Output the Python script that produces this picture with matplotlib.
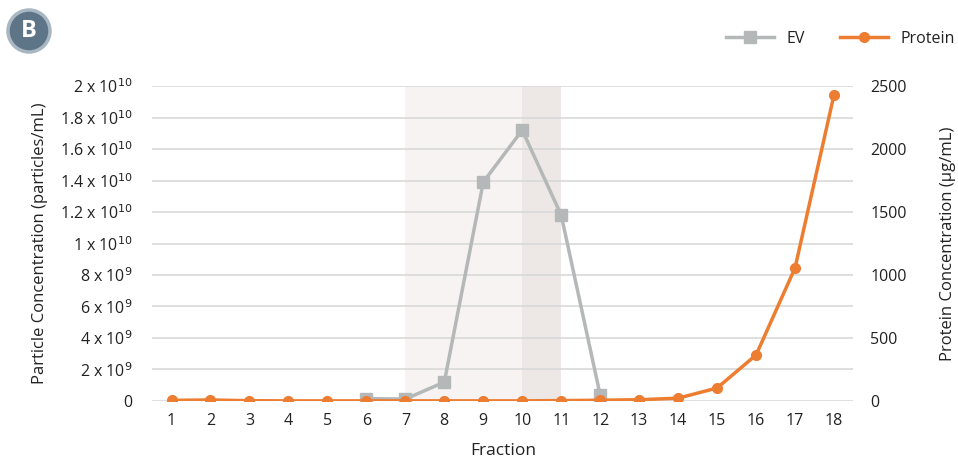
import numpy as np
import matplotlib.pyplot as plt
import matplotlib.patches as mpatches
from matplotlib.ticker import FixedLocator

plt.rcParams['font.family'] = ['Open Sans', 'DejaVu Sans']

fractions = np.arange(1, 19)
ev_fractions = [6, 7, 8, 9, 10, 11, 12]
ev_values = [0.15e9, 0.12e9, 1.2e9, 1.39e10, 1.72e10, 1.18e10, 0.38e9]
protein = [5, 8, 2, 1, 1, 1, 1, 1, 1, 1, 3, 6, 10, 22, 103, 365, 1056, 2430]

left_ticks = [0, 2e9, 4e9, 6e9, 8e9, 1e10, 1.2e10, 1.4e10, 1.6e10, 1.8e10, 2e10]
left_labels = ['0', r'2 x 10$^{9}$', r'4 x 10$^{9}$', r'6 x 10$^{9}$', r'8 x 10$^{9}$',
               r'1 x 10$^{10}$', r'1.2 x 10$^{10}$', r'1.4 x 10$^{10}$', r'1.6 x 10$^{10}$',
               r'1.8 x 10$^{10}$', r'2 x 10$^{10}$']
right_ticks = [0, 500, 1000, 1500, 2000, 2500]

ev_color = '#B5B8B8'
prot_color = '#ED7D31'
txt = '#222222'

fig = plt.figure(figsize=(9.58, 4.61), dpi=100)
ax = fig.add_axes([0.1587, 0.1302, 0.7322, 0.6832])
ax2 = ax.twinx()

ax.axvspan(7, 10, color='#F7F3F3', zorder=0, lw=0)
ax.axvspan(10, 11, color='#EDE8E5', zorder=0, lw=0)

ax.set_xlim(0.5, 18.5)
ax.set_ylim(0, 2e10)
ax2.set_ylim(0, 2500)

ax.yaxis.set_major_locator(FixedLocator(left_ticks))
ax.set_yticklabels(left_labels)
ax2.set_yticks(right_ticks)
ax.set_xticks(fractions)
ax.grid(axis='y', color='#D9D9D9', lw=1.2, zorder=1)
ax.set_axisbelow(True)

l1, = ax.plot(ev_fractions, ev_values, color=ev_color, lw=2.5, marker='s', ms=8, zorder=3, label='EV')
l2, = ax2.plot(fractions, protein, color=prot_color, lw=2.5, marker='o', ms=7, zorder=4, label='Protein')

for a in (ax, ax2):
    for s in a.spines.values():
        s.set_visible(False)
    a.tick_params(length=0, labelsize=11.5, colors=txt)
ax.tick_params(axis='y', pad=14)
ax2.tick_params(axis='y', pad=12)
ax.tick_params(axis='x', pad=9)

ax.set_xlabel('Fraction', fontsize=12.5, color=txt, labelpad=10)
ax.set_ylabel('Particle Concentration (particles/mL)', fontsize=12, color=txt, labelpad=8)
ax2.set_ylabel('Protein Concentration (µg/mL)', fontsize=12, color=txt, labelpad=24)

fig.legend(handles=[l1, l2], loc='upper right', bbox_to_anchor=(1.012, 0.965), ncol=2,
           frameon=False, fontsize=11.5, handlelength=3, columnspacing=2.2, labelcolor=txt)

# panel badge
badge = mpatches.Circle((29, 430), 21, transform=None, facecolor='#5E7487',
                        edgecolor='#A9B7C2', lw=2.5)
fig.patches.append(badge)
fig.text(29 / 958, 430 / 461, 'B', color='white', fontsize=17, fontweight='bold',
         ha='center', va='center')

fig.savefig('out.png', dpi=100)
